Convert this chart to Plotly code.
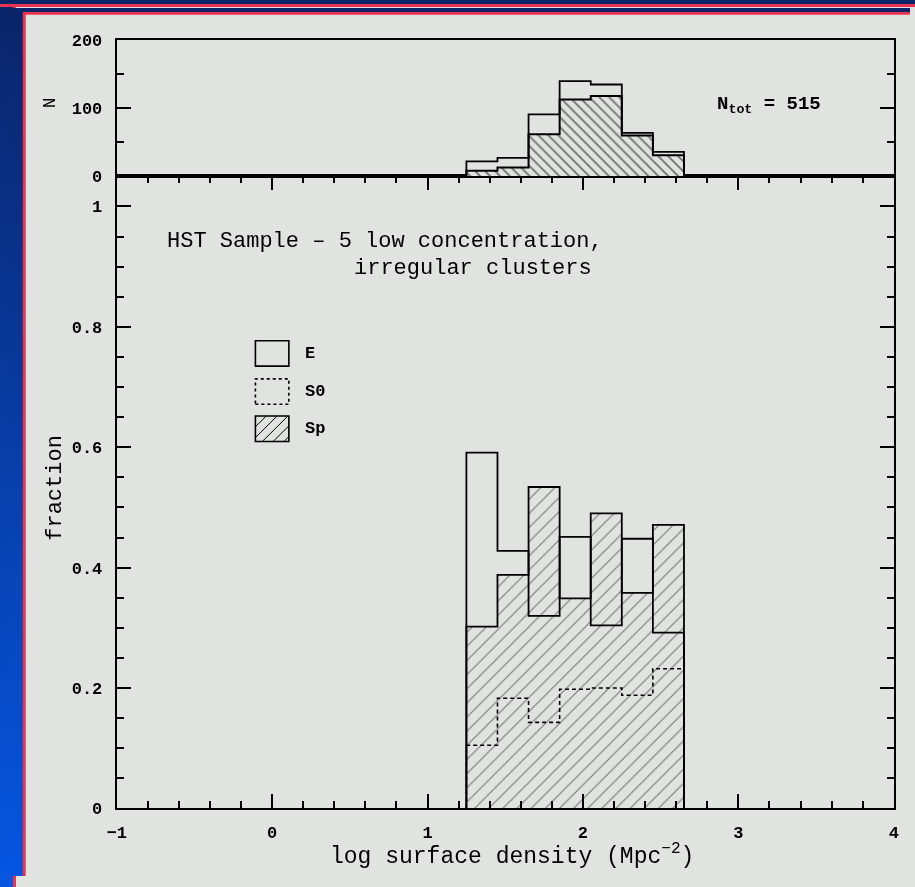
import plotly.graph_objects as go

W, H = 915, 887

# ---------------- data ----------------
bin_edges = [1.25, 1.45, 1.65, 1.85, 2.05, 2.25, 2.45, 2.65]
frac_E = [0.591, 0.428, 0.320, 0.451, 0.304, 0.448, 0.292]
frac_S0 = [0.105, 0.183, 0.143, 0.198, 0.200, 0.188, 0.232]
frac_Sp = [0.302, 0.388, 0.534, 0.349, 0.490, 0.358, 0.471]
n_total = [22, 27, 91, 140, 135, 64, 36]
n_hatched = [8, 13, 62, 113, 118, 60, 31]
x_ticks = [-1, 0, 1, 2, 3, 4]
frac_ticks = [0, 0.2, 0.4, 0.6, 0.8, 1]
frac_ticktext = ["0", "0.2", "0.4", "0.6", "0.8", "1"]
n_ticks = [0, 100, 200]
n_ticktext = ["0", "100", "200"]
legend_labels = ["E", "S0", "Sp"]

BG = "#e1e3e0"
NAVY = (10, 36, 104)
BLUE = (6, 86, 226)
RED = "#e8344e"
FONT = "Liberation Mono"


def px(x):
    return x / W


def py(y):
    return 1 - y / H


def step(edges, vals):
    xs, ys = [edges[0]], [0]
    for i, v in enumerate(vals):
        xs += [edges[i], edges[i + 1]]
        ys += [v, v]
    xs.append(edges[-1])
    ys.append(0)
    return xs, ys


centers = [(a + b) / 2 for a, b in zip(bin_edges[:-1], bin_edges[1:])]
widths = [b - a for a, b in zip(bin_edges[:-1], bin_edges[1:])]

fig = go.Figure()

# main panel: Sp hatched
fig.add_trace(go.Bar(
    x=centers, y=frac_Sp, width=widths, xaxis="x", yaxis="y",
    marker=dict(color=BG, line=dict(width=0),
                pattern=dict(shape="/", fgcolor="black", bgcolor=BG, size=10, solidity=0.1)),
    showlegend=False, hoverinfo="skip"))
sx, sy = step(bin_edges, frac_Sp)
fig.add_trace(go.Scatter(x=sx, y=sy, mode="lines", line=dict(color="black", width=1.8),
                         xaxis="x", yaxis="y", showlegend=False))
ex, ey = step(bin_edges, frac_E)
fig.add_trace(go.Scatter(x=ex, y=ey, mode="lines", line=dict(color="black", width=1.8),
                         xaxis="x", yaxis="y", showlegend=False))
s0x, s0y = step(bin_edges, frac_S0)
fig.add_trace(go.Scatter(x=s0x, y=s0y, mode="lines",
                         line=dict(color="black", width=1.6, dash="4px,3px"),
                         xaxis="x", yaxis="y", showlegend=False))

# top panel
fig.add_trace(go.Bar(
    x=centers, y=n_hatched, width=widths, xaxis="x2", yaxis="y2",
    marker=dict(color=BG, line=dict(width=0),
                pattern=dict(shape="\\", fgcolor="black", bgcolor=BG, size=7, solidity=0.25)),
    showlegend=False, hoverinfo="skip"))
hx, hy = step(bin_edges, n_hatched)
fig.add_trace(go.Scatter(x=hx, y=hy, mode="lines", line=dict(color="black", width=2),
                         xaxis="x2", yaxis="y2", showlegend=False))
tx, ty = step(bin_edges, n_total)
fig.add_trace(go.Scatter(x=tx, y=ty, mode="lines", line=dict(color="black", width=1.8),
                         xaxis="x2", yaxis="y2", showlegend=False))

xdom = [px(108.5), px(898.5)]
tickfont = dict(family=FONT, size=17, color="black", weight="bold")

common_y = dict(ticks="inside", ticklen=14, tickwidth=1.5, tickcolor="black",
                showline=True, linewidth=2, linecolor="black", mirror="ticks",
                showgrid=False, zeroline=False, tickfont=tickfont, ticklabelstandoff=9)

fig.update_layout(
    width=W, height=H, margin=dict(l=0, r=0, t=0, b=0),
    paper_bgcolor="rgba(0,0,0,0)", plot_bgcolor="rgba(0,0,0,0)",
    barmode="overlay", bargap=0,
    xaxis=dict(domain=xdom, range=[-1, 4], anchor="y",
               tickmode="array", tickvals=x_ticks, ticks="inside", ticklen=14, tickwidth=1.5,
               tickcolor="black", showline=True, linewidth=2, linecolor="black", mirror="ticks",
               showgrid=False, zeroline=False, tickfont=tickfont, ticklabelstandoff=7,
               minor=dict(tickmode="linear", tick0=0, dtick=0.2, ticks="inside", ticklen=7,
                          tickwidth=1.5, tickcolor="black", showgrid=False)),
    yaxis=dict(domain=[py(818), py(172)], range=[0, 1.05], anchor="x",
               tickmode="array", tickvals=frac_ticks, ticktext=frac_ticktext,
               minor=dict(tickmode="linear", tick0=0, dtick=0.05, ticks="inside", ticklen=7,
                          tickwidth=1.5, tickcolor="black", showgrid=False),
               **common_y),
    xaxis2=dict(domain=xdom, range=[-1, 4], anchor="y2", showticklabels=False, ticks="",
                showline=True, linewidth=2, linecolor="black", mirror=True,
                showgrid=False, zeroline=False),
    yaxis2=dict(domain=[py(172), py(33)], range=[0, 200], anchor="x2",
                tickmode="array", tickvals=n_ticks, ticktext=n_ticktext,
                minor=dict(tickmode="linear", tick0=0, dtick=50, ticks="inside", ticklen=7,
                           tickwidth=1.5, tickcolor="black", showgrid=False),
                **common_y),
)

# ---------------- background decoration ----------------
shapes = []
nb = 40
for i in range(nb):
    ya = H * i / nb
    yb = H * (i + 1) / nb + 1
    t = ((ya + yb) / 2) / H
    c = tuple(int(round(a + (b - a) * t)) for a, b in zip(NAVY, BLUE))
    shapes.append(dict(type="rect", xref="paper", yref="paper", layer="below",
                       x0=0, x1=1, y0=max(0, py(yb)), y1=min(1, py(ya)),
                       fillcolor="rgb(%d,%d,%d)" % c, line=dict(width=0)))
shapes.append(dict(type="rect", xref="paper", yref="paper", layer="below",
                   x0=px(13), x1=1, y0=0, y1=py(4), fillcolor=RED, line=dict(width=0)))
shapes.append(dict(type="rect", xref="paper", yref="paper", layer="below",
                   x0=px(16), x1=1, y0=0, y1=py(7), fillcolor=BG, line=dict(width=0)))

# ---------------- legend (drawn by hand) ----------------
box_x0, box_x1 = 249.5, 283.5
box_rows = [(340, 366), (379, 405), (417, 443)]
dashes = ["solid", "dot", "solid"]
for (y0, y1), d in zip(box_rows, dashes):
    shapes.append(dict(type="rect", xref="paper", yref="paper", layer="above",
                       x0=px(box_x0), x1=px(box_x1), y0=py(y1), y1=py(y0),
                       line=dict(color="black", width=1.6, dash="3px,3px" if d == "dot" else "solid")))
y0, y1 = box_rows[2]
bw, bh = box_x1 - box_x0, y1 - y0
for c in range(-int(bh), int(bw), 11):
    xa, ta = c, 0.0
    xb, tb = c + bh, bh
    if xa < 0:
        ta, xa = ta - xa, 0
    if xb > bw:
        tb, xb = tb - (xb - bw), bw
    if xb <= xa:
        continue
    shapes.append(dict(type="line", xref="paper", yref="paper", layer="above",
                       x0=px(box_x0 + xa), y0=py(y1 - ta), x1=px(box_x0 + xb), y1=py(y1 - tb),
                       line=dict(color="black", width=1)))

fig.update_layout(shapes=shapes)


def text(t, x, y, size, anchor="left", angle=0, bold=False):
    return dict(text=t, x=px(x), y=py(y), xref="paper", yref="paper", xanchor=anchor,
                yanchor="middle", showarrow=False, textangle=angle,
                font=dict(family=FONT, size=size, color="black",
                          weight="bold" if bold else "normal"))


ann = []
for lab, (a, b) in zip(legend_labels, box_rows):
    ann.append(text(lab, 298, (a + b) / 2, 17, bold=True))
ann.append(text("HST Sample \u2013 5 low concentration,", 158, 239, 22))
ann.append(text("irregular clusters", 348, 266, 22))
ann.append(text("N<sub>tot</sub> = 515", 717, 99, 19, bold=True))
ann.append(text("log surface density (Mpc<sup>\u22122</sup>)", 510, 866, 23, anchor="center"))
ann.append(text("fraction", 46, 490, 22, anchor="center", angle=-90))
ann.append(text("N", 41, 97, 18, anchor="center", angle=-90))
fig.update_layout(annotations=ann)

page_bg = ("linear-gradient(to bottom, rgb(10,36,104) 0px, rgb(10,36,104) 4px, "
           + RED + " 4px, " + RED + " 7px, rgba(0,0,0,0) 7px), "
           "linear-gradient(to right, rgba(0,0,0,0) 0px, rgba(0,0,0,0) 13px, "
           + RED + " 13px, " + RED + " 16px, " + BG + " 16px), "
           "linear-gradient(to bottom, rgb(10,36,104), rgb(6,86,226))")

post = ("document.documentElement.style.background='" + page_bg + "';"
        "document.documentElement.style.margin='0px';"
        "document.body.style.margin='0px';document.body.style.padding='0px';"
        "var d=document.getElementById('{plot_id}');"
        "d.style.position='fixed';d.style.left='0px';d.style.top='0px';")

fig.write_html("out.html", config={"displayModeBar": False}, post_script=post)
